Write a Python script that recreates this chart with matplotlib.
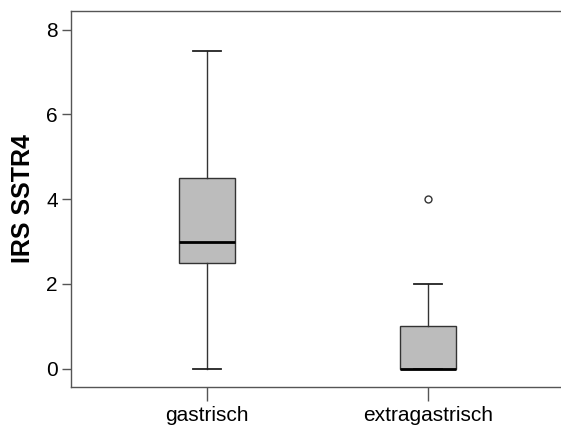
import matplotlib
matplotlib.use("Agg")
import matplotlib.pyplot as plt

# group labels and box statistics
groups = ["gastrisch", "extragastrisch"]
q1 = [2.5, 0.0]
med = [3.0, 0.0]
q3 = [4.5, 1.0]
whislo = [0.0, 0.0]
whishi = [7.5, 2.0]
fliers = [[], [4.0]]

plt.rcParams['font.family'] = ['Liberation Sans', 'DejaVu Sans']

fig = plt.figure(figsize=(5.61, 4.28), dpi=100)
ax = fig.add_axes([0.1266, 0.0958, 0.8734, 0.8785])

stats = []
for i in range(len(groups)):
    stats.append(dict(label=groups[i], q1=q1[i], med=med[i], q3=q3[i],
                      whislo=whislo[i], whishi=whishi[i], fliers=fliers[i]))

ax.bxp(stats, positions=[1, 2], widths=0.25, patch_artist=True,
       boxprops=dict(facecolor='#bcbcbc', edgecolor='#333333', linewidth=1.0),
       whiskerprops=dict(color='#333333', linewidth=1.0),
       capprops=dict(color='#222222', linewidth=1.3),
       medianprops=dict(color='black', linewidth=2.0),
       flierprops=dict(marker='o', markersize=5, markerfacecolor='white',
                       markeredgecolor='#333333', markeredgewidth=1.0))

ax.set_xlim(0.385, 2.602)
ax.set_ylim(-0.43, 8.44)
ax.set_yticks([0, 2, 4, 6, 8])
ax.set_ylabel('IRS SSTR4', fontsize=18, fontweight='bold', labelpad=8)

ax.spines['right'].set_visible(False)
for s in ['left', 'bottom', 'top']:
    ax.spines[s].set_color('#555555')
    ax.spines[s].set_linewidth(1.0)

ax.tick_params(axis='y', length=6.5, width=1, color='#555555', labelsize=15, pad=3)
ax.tick_params(axis='x', length=10, width=1, color='#555555', labelsize=15, pad=4)

fig.savefig('out.png', dpi=100)
